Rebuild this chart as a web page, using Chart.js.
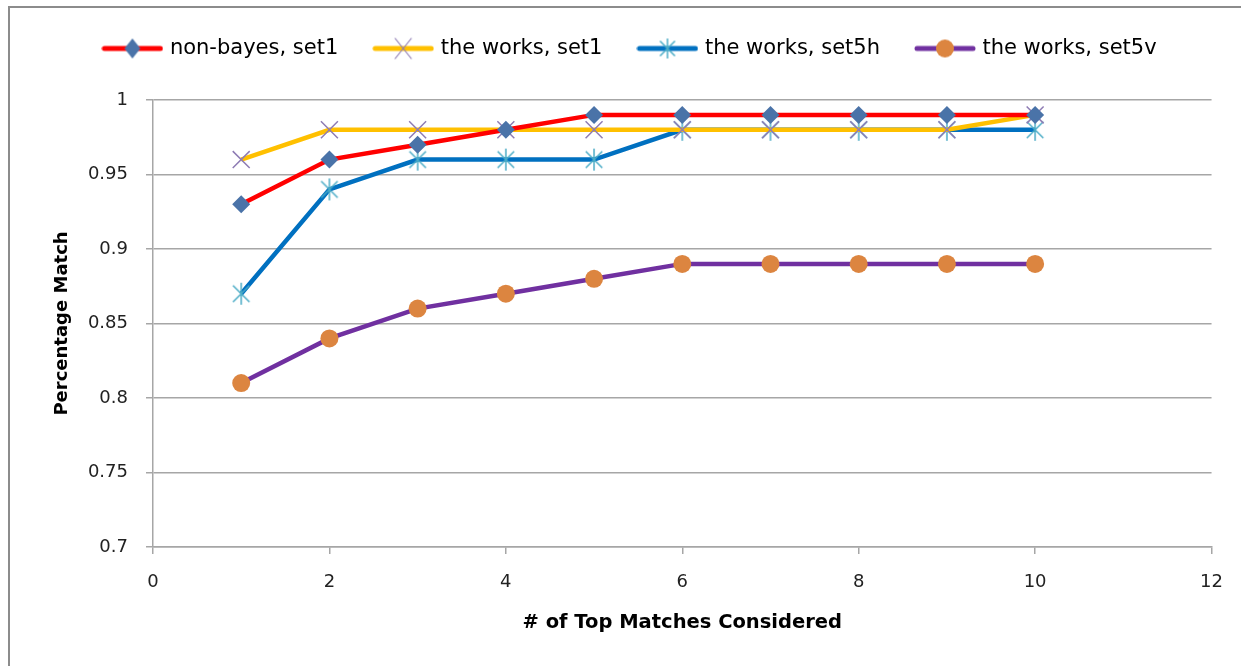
<!DOCTYPE html>
<html>
<head>
<meta charset="utf-8">
<script src="https://cdn.jsdelivr.net/npm/chart.js@4.4.1/dist/chart.umd.min.js"></script>
<style>
  html, body { margin: 0; padding: 0; background: #fff; }
  #wrap { width: 1241px; height: 666px; position: relative; }
</style>
</head>
<body>
<div id="wrap"><canvas id="myChart" width="1241" height="666"></canvas></div>
<script>
// data
const xValues = [1, 2, 3, 4, 5, 6, 7, 8, 9, 10];
const nonBayesSet1 = [0.93, 0.96, 0.97, 0.98, 0.99, 0.99, 0.99, 0.99, 0.99, 0.99];
const theWorksSet1 = [0.96, 0.98, 0.98, 0.98, 0.98, 0.98, 0.98, 0.98, 0.98, 0.99];
const theWorksSet5h = [0.87, 0.94, 0.96, 0.96, 0.96, 0.98, 0.98, 0.98, 0.98, 0.98];
const theWorksSet5v = [0.81, 0.84, 0.86, 0.87, 0.88, 0.89, 0.89, 0.89, 0.89, 0.89];
const xTicks = [0, 2, 4, 6, 8, 10, 12];
const yTicks = [0.7, 0.75, 0.8, 0.85, 0.9, 0.95, 1];

const FONT = "'DejaVu Sans', sans-serif";

function toPoints(ys) {
    return ys.map((y, i) => ({ x: xValues[i], y: y }));
}

// 6-armed asterisk like the excel marker
function asterisk(color, size) {
    const c = document.createElement('canvas');
    c.width = size; c.height = size;
    const g = c.getContext('2d');
    const m = size / 2, r = size / 2 - 1;
    g.strokeStyle = color;
    g.lineWidth = 1.5;
    g.beginPath();
    g.moveTo(m, m - r); g.lineTo(m, m + r);
    g.moveTo(m - r * 0.75, m - r * 0.75); g.lineTo(m + r * 0.75, m + r * 0.75);
    g.moveTo(m + r * 0.75, m - r * 0.75); g.lineTo(m - r * 0.75, m + r * 0.75);
    g.stroke();
    return c;
}

// small canvas with a line + marker, used as the legend symbol
function legendIcon(lineColor, markerColor, style) {
    const c = document.createElement('canvas');
    c.width = 62; c.height = 24;
    const g = c.getContext('2d');
    const cx = 31, cy = 12;
    g.strokeStyle = lineColor;
    g.lineWidth = 5;
    g.lineCap = 'round';
    g.beginPath(); g.moveTo(3, cy); g.lineTo(59, cy); g.stroke();
    if (style === 'circle') {
        g.fillStyle = markerColor;
        g.beginPath(); g.arc(cx, cy, 9, 0, Math.PI * 2); g.fill();
    } else if (style === 'rectRot') {
        g.fillStyle = markerColor;
        g.beginPath(); g.moveTo(cx, cy - 10); g.lineTo(cx + 8, cy); g.lineTo(cx, cy + 10); g.lineTo(cx - 8, cy); g.closePath(); g.fill();
    } else if (style === 'crossRot') {
        g.strokeStyle = markerColor;
        g.lineWidth = 1.2;
        g.beginPath();
        g.moveTo(cx - 8, cy - 10); g.lineTo(cx + 8, cy + 10);
        g.moveTo(cx + 8, cy - 10); g.lineTo(cx - 8, cy + 10);
        g.stroke();
    } else {
        g.drawImage(asterisk(markerColor, 22), cx - 11, cy - 11);
    }
    return c;
}

const series = [
    { label: 'non-bayes, set1', data: nonBayesSet1, line: '#ff0000', marker: '#4a73a8', style: 'rectRot', r: 9 },
    { label: 'the works, set1', data: theWorksSet1, line: '#ffc000', marker: '#8e7cb4', style: 'crossRot', r: 12 },
    { label: 'the works, set5h', data: theWorksSet5h, line: '#0070c0', marker: '#4bacc6', style: 'star', r: 12 },
    { label: 'the works, set5v', data: theWorksSet5v, line: '#7030a0', marker: '#dc8540', style: 'circle', r: 9 }
];

const frame = {
    id: 'frame',
    beforeDraw(chart) {
        const c = chart.ctx;
        c.save();
        c.fillStyle = '#fff';
        c.fillRect(0, 0, chart.width, chart.height);
        c.strokeStyle = '#8c8c8c';
        c.lineWidth = 2;
        c.beginPath();
        c.moveTo(9, chart.height);
        c.lineTo(9, 7);
        c.lineTo(chart.width, 7);
        c.stroke();
        c.restore();
    }
};

const legendSpace = {
    id: 'legendSpace',
    beforeInit(chart) {
        const fit = chart.legend.fit;
        chart.legend.fit = function () {
            fit.bind(chart.legend)();
            this.height = 100;
        };
    }
};

const ctx = document.getElementById('myChart');

new Chart(ctx, {
    type: 'line',
    data: {
        datasets: series.map(s => ({
            label: s.label,
            data: toPoints(s.data),
            borderColor: s.line,
            backgroundColor: s.marker,
            borderWidth: 4.5,
            pointStyle: s.style === 'star' ? asterisk(s.marker, 24) : s.style,
            pointRadius: s.r,
            pointHoverRadius: s.r,
            pointBorderColor: s.marker,
            pointBackgroundColor: s.marker,
            pointBorderWidth: s.style === 'crossRot' ? 1.5 : 0,
            tension: 0
        }))
    },
    options: {
        responsive: false,
        animation: false,
        layout: { padding: { left: 48, right: 27, top: 0, bottom: 19 } },
        plugins: {
            tooltip: { enabled: false },
            legend: {
                position: 'top',
                labels: {
                    usePointStyle: true,
                    pointStyleWidth: 54,
                    boxHeight: 21,
                    padding: 38,
                    color: '#000',
                    font: { family: FONT, size: 21 },
                    generateLabels(chart) {
                        return series.map((s, i) => ({
                            text: s.label,
                            pointStyle: legendIcon(s.line, s.marker, s.style),
                            fillStyle: s.marker,
                            strokeStyle: s.marker,
                            lineWidth: 0,
                            hidden: false,
                            datasetIndex: i
                        }));
                    }
                }
            }
        },
        scales: {
            x: {
                type: 'linear',
                min: 0,
                max: 12,
                afterBuildTicks(axis) { axis.ticks = xTicks.map(v => ({ value: v })); },
                afterFit(axis) { axis.height = 100; },
                grid: { drawOnChartArea: false, color: '#a6a6a6', lineWidth: 1.5, tickLength: 7 },
                border: { color: '#a6a6a6', width: 1.5 },
                ticks: { color: '#222', font: { family: FONT, size: 18 }, padding: 18 },
                title: { display: true, text: '# of Top Matches Considered', color: '#000',
                         font: { family: FONT, size: 19.5, weight: 'bold' }, padding: { top: 4, bottom: 12 } }
            },
            y: {
                type: 'linear',
                min: 0.7,
                max: 1,
                afterBuildTicks(axis) { axis.ticks = yTicks.map(v => ({ value: v })); },
                afterFit(axis) { axis.width = 105; },
                grid: { color: '#a6a6a6', lineWidth: 1.5, tickLength: 7 },
                border: { color: '#a6a6a6', width: 1.5 },
                ticks: { color: '#222', font: { family: FONT, size: 18 }, padding: 18,
                         callback: v => String(+v.toFixed(2)) },
                title: { display: true, text: 'Percentage Match', color: '#000',
                         font: { family: FONT, size: 18, weight: 'bold' }, padding: { bottom: 6 } }
            }
        }
    },
    plugins: [frame, legendSpace]
});
</script>
</body>
</html>
